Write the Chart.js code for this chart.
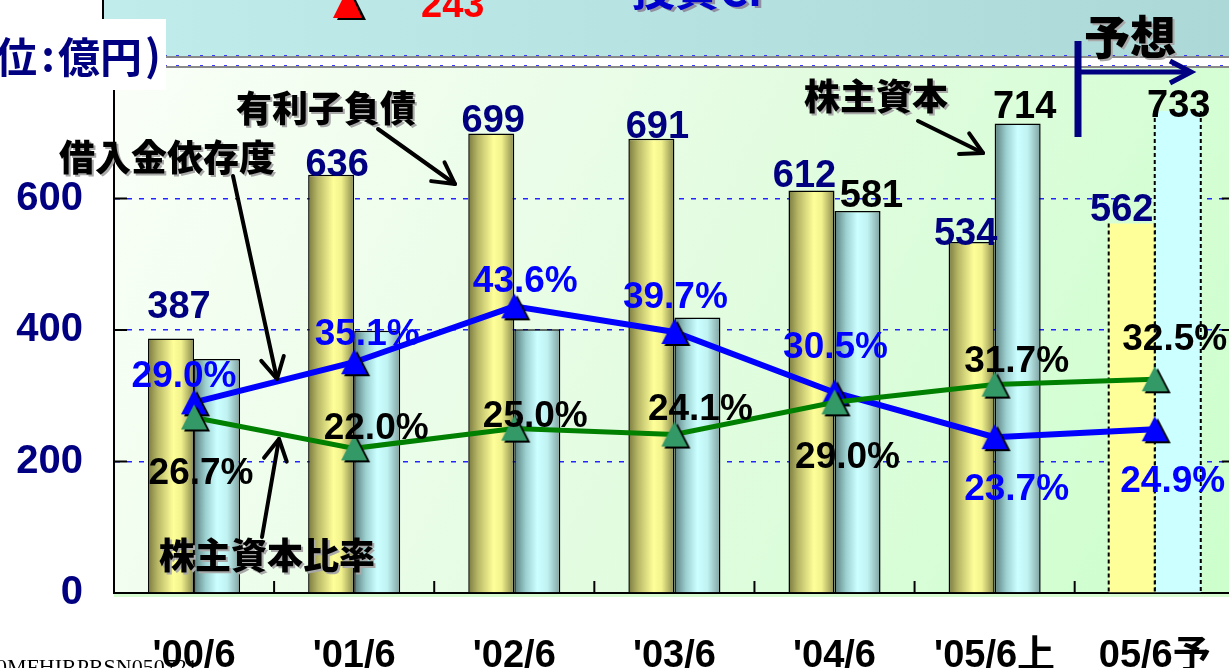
<!DOCTYPE html>
<html><head><meta charset="utf-8">
<script src="https://cdn.jsdelivr.net/npm/chart.js@4.4.1/dist/chart.umd.min.js"></script>
<style>html,body{margin:0;padding:0;background:#fff;overflow:hidden;width:1229px;height:668px}canvas{display:block}</style>
</head><body>
<canvas id="c" width="1253" height="668"></canvas>
<script>
// ---- data ----
const categories = ["'00/6", "'01/6", "'02/6", "'03/6", "'04/6", "'05/6上", "05/6予"];
const interestDebt = [387, 636, 699, 691, 612, 534, 562];      // 有利子負債
const equity = [356, 399, 401, 419, 581, 714, 733];            // 株主資本
const borrowingRatio = [29.0, 35.1, 43.6, 39.7, 30.5, 23.7, 24.9]; // 借入金依存度 (%)
const equityRatio = [26.7, 22.0, 25.0, 24.1, 29.0, 31.7, 32.5];    // 株主資本比率 (%)
const yTicks = [0, 200, 400, 600];
const forecastIndex = 6;
const equityLabelShown = [false, false, false, false, true, true, true];

// ---- label placement (style only) ----
const debtLabelOff = [[8, 21], [6, -1], [2, 1], [6, 1], [-7, 4], [-6, -3], [-10, 2]];
const equityLabelOff = [[0, 0], [0, 0], [0, 0], [0, 0], [14, 4], [7, 6], [1, -6]];
const borrowLabelOff = [[-10, -15], [13, -17], [11, -14], [1, -24], [1, -34], [22, 63], [18, 63]];
const eqRatioLabelOff = [[7, 67], [22, -9], [21, -2], [26, -15], [13, 66], [22, -13], [20, -29]];

const NUMFONT = '"Liberation Sans", Arial, "Noto Sans CJK JP", sans-serif';
const JPFONT = '"Noto Sans CJK JP", "Noto Sans CJK SC", sans-serif';

function triMarker(color) {
  const c = document.createElement('canvas');
  c.width = 40; c.height = 40;
  const g = c.getContext('2d');
  const tri = (ox, oy, col) => {
    g.beginPath();
    g.moveTo(20 + ox, 7 + oy);
    g.lineTo(33 + ox, 32 + oy);
    g.lineTo(7 + ox, 32 + oy);
    g.closePath();
    g.fillStyle = col; g.fill();
  };
  tri(3, 2, '#000');
  tri(0, 0, color);
  return c;
}

function barGradient(ctx, which) {
  const chart = ctx.chart;
  const i = ctx.dataIndex;
  if (i === forecastIndex) return which === 0 ? '#FFFF99' : '#CCFFFF';
  const xs = chart.scales.x;
  if (!xs || !chart.chartArea || i === undefined) return which === 0 ? '#F0F090' : '#C0F0F0';
  const c = xs.getPixelForValue(i);
  const bw = (xs.width / categories.length) * 0.575 / 2;
  const l = which === 0 ? c - bw : c;
  const g = chart.ctx.createLinearGradient(l, 0, l + bw, 0);
  if (which === 0) {
    g.addColorStop(0, '#7A7A40');
    g.addColorStop(0.2, '#B5B565');
    g.addColorStop(0.55, '#FFFF99');
    g.addColorStop(0.72, '#F2F28E');
    g.addColorStop(1, '#88884A');
  } else {
    g.addColorStop(0, '#5A7C7C');
    g.addColorStop(0.25, '#9CCFCF');
    g.addColorStop(0.5, '#CCFFFF');
    g.addColorStop(0.72, '#C0F2F2');
    g.addColorStop(1, '#7FA0A0');
  }
  return g;
}

function arrow(ctx, x1, y1, x2, y2, color, w, head) {
  ctx.save();
  ctx.strokeStyle = color; ctx.lineWidth = w; ctx.lineCap = 'round'; ctx.lineJoin = 'round';
  ctx.beginPath(); ctx.moveTo(x1, y1); ctx.lineTo(x2, y2); ctx.stroke();
  const ang = Math.atan2(y2 - y1, x2 - x1);
  const a = 0.5;
  ctx.beginPath();
  ctx.moveTo(x2 - head * Math.cos(ang - a), y2 - head * Math.sin(ang - a));
  ctx.lineTo(x2, y2);
  ctx.lineTo(x2 - head * Math.cos(ang + a), y2 - head * Math.sin(ang + a));
  ctx.stroke();
  ctx.restore();
}

function shadowText(ctx, txt, x, y, size) {
  ctx.save();
  ctx.font = '900 ' + size + 'px ' + JPFONT;
  ctx.textAlign = 'left'; ctx.textBaseline = 'middle';
  ctx.fillStyle = '#A8A8A8'; ctx.fillText(txt, x + 2, y + 2);
  ctx.fillStyle = '#000'; ctx.fillText(txt, x, y);
  ctx.restore();
}

const deco = {
  id: 'deco',
  beforeDraw(chart) {
    const { ctx, chartArea: a } = chart;
    ctx.save();
    ctx.fillStyle = '#fff'; ctx.fillRect(0, 0, chart.width, chart.height);
    let g = ctx.createLinearGradient(104, 0, 1229, 57);
    g.addColorStop(0, '#C0ECEC'); g.addColorStop(1, '#ACD8D8');
    ctx.fillStyle = g; ctx.fillRect(104, 0, chart.width - 104, 57);
    g = ctx.createLinearGradient(a.left, a.top, a.right, a.bottom);
    g.addColorStop(0, '#FAFFF8'); g.addColorStop(0.5, '#E3FCE1'); g.addColorStop(1, '#CCFFCC');
    ctx.fillStyle = g; ctx.fillRect(a.left, a.top, a.right - a.left, a.bottom - a.top);
    ctx.fillStyle = '#D6FBD0'; ctx.fillRect(a.left, a.bottom, a.right - a.left, 4);
    ctx.strokeStyle = '#000'; ctx.lineWidth = 2;
    ctx.beginPath(); ctx.moveTo(103, 0); ctx.lineTo(103, 20); ctx.stroke();
    [57, a.top].forEach(y => {
      ctx.strokeStyle = '#8A8A8A'; ctx.lineWidth = 2;
      ctx.beginPath(); ctx.moveTo(104, y); ctx.lineTo(chart.width, y); ctx.stroke();
      ctx.strokeStyle = '#3A3AFF'; ctx.lineWidth = 1; ctx.setLineDash([3, 9]);
      ctx.beginPath(); ctx.moveTo(104, y - 1.5); ctx.lineTo(chart.width, y - 1.5); ctx.stroke();
      ctx.setLineDash([]);
    });
    ctx.restore();
  },
  beforeDatasetsDraw(chart) {
    const { ctx, chartArea: a, scales } = chart;
    ctx.save();
    ctx.strokeStyle = '#000'; ctx.lineWidth = 2;
    yTicks.forEach(v => {
      if (v === 0) return;
      const y = scales.y.getPixelForValue(v);
      ctx.beginPath(); ctx.moveTo(a.left, y); ctx.lineTo(a.left + 13, y); ctx.stroke();
      ctx.beginPath(); ctx.moveTo(a.right, y); ctx.lineTo(a.right - 13, y); ctx.stroke();
    });
    const cw = scales.x.width / categories.length;
    for (let i = 1; i < categories.length; i++) {
      const x = scales.x.getPixelForValue(i) - cw / 2;
      ctx.beginPath(); ctx.moveTo(x, a.bottom); ctx.lineTo(x, a.bottom - 12); ctx.stroke();
    }
    ctx.restore();
  },
  afterDatasetDraw(chart, args) {
    if (args.index > 1) return;
    const el = chart.getDatasetMeta(args.index).data[forecastIndex];
    if (!el) return;
    const ctx = chart.ctx;
    const { x, y, base, width } = el.getProps(['x', 'y', 'base', 'width'], true);
    ctx.save();
    ctx.strokeStyle = '#000'; ctx.lineWidth = 2; ctx.setLineDash([4, 3]);
    [x - width / 2, x + width / 2].forEach(xx => {
      ctx.beginPath(); ctx.moveTo(xx, y); ctx.lineTo(xx, base); ctx.stroke();
    });
    ctx.restore();
  },
  afterDatasetsDraw(chart) {
    const ctx = chart.ctx;
    const m0 = chart.getDatasetMeta(0), m1 = chart.getDatasetMeta(1);
    const m2 = chart.getDatasetMeta(2), m3 = chart.getDatasetMeta(3);
    ctx.save();
    ctx.textAlign = 'center'; ctx.textBaseline = 'alphabetic';
    ctx.font = 'bold 38px ' + NUMFONT;
    ctx.fillStyle = '#000080';
    interestDebt.forEach((v, i) => {
      const el = m0.data[i];
      ctx.fillText(String(v), el.x + debtLabelOff[i][0], el.y - debtLabelOff[i][1]);
    });
    ctx.fillStyle = '#000';
    equity.forEach((v, i) => {
      if (!equityLabelShown[i]) return;
      const el = m1.data[i];
      ctx.fillText(String(v), el.x + equityLabelOff[i][0], el.y - equityLabelOff[i][1]);
    });
    ctx.font = 'bold 37px ' + NUMFONT;
    ctx.fillStyle = '#0000FF';
    borrowingRatio.forEach((v, i) => {
      const el = m2.data[i];
      ctx.fillText(v.toFixed(1) + '%', el.x + borrowLabelOff[i][0], el.y + borrowLabelOff[i][1]);
    });
    ctx.fillStyle = '#000';
    equityRatio.forEach((v, i) => {
      const el = m3.data[i];
      ctx.fillText(v.toFixed(1) + '%', el.x + eqRatioLabelOff[i][0], el.y + eqRatioLabelOff[i][1]);
    });
    ctx.restore();
  },
  afterDraw(chart) {
    const ctx = chart.ctx;
    ctx.save();
    shadowText(ctx, '有利子負債', 236, 108, 36);
    shadowText(ctx, '借入金依存度', 59, 157, 36);
    shadowText(ctx, '株主資本比率', 159, 555, 36);
    shadowText(ctx, '株主資本', 804, 96, 36);
    shadowText(ctx, '予想', 1084, 37, 46);
    arrow(ctx, 378, 129, 455, 184, '#000', 4, 24);
    arrow(ctx, 233, 176, 277, 379, '#000', 4, 24);
    arrow(ctx, 262, 537, 279, 439, '#000', 4, 24);
    arrow(ctx, 918, 121, 983, 153, '#000', 4, 24);
    ctx.strokeStyle = '#000080'; ctx.lineWidth = 7; ctx.lineCap = 'butt';
    ctx.beginPath(); ctx.moveTo(1078, 41); ctx.lineTo(1078, 137); ctx.stroke();
    ctx.lineWidth = 5;
    ctx.beginPath(); ctx.moveTo(1078, 72); ctx.lineTo(1190, 72); ctx.stroke();
    ctx.lineJoin = 'miter';
    ctx.beginPath(); ctx.moveTo(1170, 61); ctx.lineTo(1191, 72); ctx.lineTo(1170, 83); ctx.stroke();
    ctx.fillStyle = '#fff'; ctx.fillRect(0, 19, 166, 71);
    ctx.fillStyle = '#000080';
    ctx.font = 'bold 42px ' + JPFONT;
    ctx.textBaseline = 'middle';
    ctx.textAlign = 'right'; ctx.fillText('(単位', 37, 57);
    ctx.textAlign = 'center'; ctx.fillText(':', 48, 55);
    ctx.textAlign = 'left'; ctx.fillText('億円', 58, 57);
    ctx.textAlign = 'center'; ctx.fillText(')', 153, 55);
    ctx.fillStyle = '#000';
    ctx.beginPath(); ctx.moveTo(351, -10); ctx.lineTo(366, 20); ctx.lineTo(337, 20); ctx.closePath(); ctx.fill();
    ctx.fillStyle = '#FF0000';
    ctx.beginPath(); ctx.moveTo(348, -12); ctx.lineTo(362, 18); ctx.lineTo(333, 18); ctx.closePath(); ctx.fill();
    ctx.textBaseline = 'alphabetic'; ctx.textAlign = 'left';
    ctx.font = 'bold 38px ' + NUMFONT;
    ctx.fillText('243', 421, 17);
    ctx.font = 'bold 44px ' + JPFONT;
    ctx.fillStyle = '#9090A0'; ctx.fillText('投資CF', 634, 8);
    ctx.fillStyle = '#0000CC'; ctx.fillText('投資CF', 631, 6);
    ctx.fillStyle = '#000';
    ctx.font = '22px "Liberation Serif", "DejaVu Serif", serif';
    ctx.fillText('0MFHIRPRSN050721', -4, 674);
    ctx.restore();
  }
};

new Chart(document.getElementById('c'), {
  data: {
    labels: categories,
    datasets: [
      {
        type: 'bar', label: '有利子負債', data: interestDebt, order: 2,
        backgroundColor: c => barGradient(c, 0),
        borderColor: '#000',
        borderWidth: c => c.dataIndex === forecastIndex ? 0 : 1.5,
        borderSkipped: 'start',
        categoryPercentage: 0.575, barPercentage: 1, yAxisID: 'y'
      },
      {
        type: 'bar', label: '株主資本', data: equity, order: 3,
        backgroundColor: c => barGradient(c, 1),
        borderColor: '#000',
        borderWidth: c => c.dataIndex === forecastIndex ? 0 : 1.5,
        borderSkipped: 'start',
        categoryPercentage: 0.575, barPercentage: 1, yAxisID: 'y'
      },
      {
        type: 'line', label: '借入金依存度', data: borrowingRatio, order: 1,
        borderColor: '#0000FF', borderWidth: 6, tension: 0, fill: false,
        pointStyle: triMarker('#0000FF'), pointRadius: 12, yAxisID: 'y2'
      },
      {
        type: 'line', label: '株主資本比率', data: equityRatio, order: 0,
        borderColor: '#008000', borderWidth: 5, tension: 0, fill: false,
        pointStyle: triMarker('#339966'), pointRadius: 12, yAxisID: 'y2'
      }
    ]
  },
  options: {
    responsive: false,
    animation: false,
    devicePixelRatio: 1,
    layout: { padding: { top: 67, right: 0, left: 0, bottom: 0 } },
    plugins: { legend: { display: false }, tooltip: { enabled: false } },
    scales: {
      x: {
        afterFit: s => { s.height = 75; },
        grid: { display: false, drawTicks: false },
        border: { display: true, color: '#000', width: 2 },
        ticks: {
          autoSkip: false, maxRotation: 0, padding: 41, color: '#000',
          font: { size: 38, weight: 'bold', family: NUMFONT }
        }
      },
      y: {
        position: 'left', min: 0, max: 800,
        afterFit: s => { s.width = 114; },
        afterBuildTicks: s => { s.ticks = yTicks.map(v => ({ value: v })); },
        ticks: {
          padding: 31, color: '#000080',
          font: { size: 40, weight: 'bold', family: NUMFONT }
        },
        grid: {
          drawTicks: false, lineWidth: 1.5,
          color: c => (c.tick && c.tick.value === 0) ? 'rgba(0,0,0,0)' : '#2424FF'
        },
        border: { display: true, color: '#000', width: 2, dash: [5, 7] }
      },
      y2: { display: false, min: 0, max: 80 }
    }
  },
  plugins: [deco]
});
</script>
</body></html>
